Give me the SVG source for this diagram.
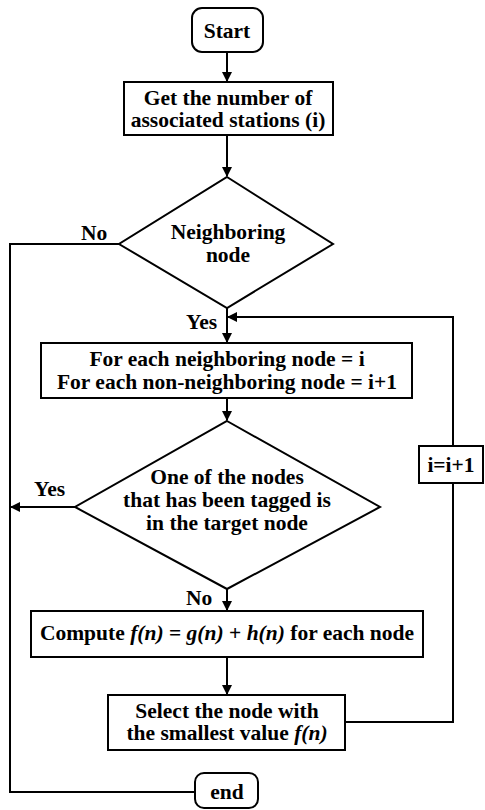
<svg xmlns="http://www.w3.org/2000/svg" width="485" height="810" viewBox="0 0 485 810">
<style>
.s{fill:#fff;stroke:#000;stroke-width:2}
text{font-family:'Liberation Serif','Times New Roman',serif;font-weight:bold;font-size:21.5px;fill:#000}
.t{text-anchor:middle;dominant-baseline:central}
.l{dominant-baseline:central}
.c{fill:none;stroke:#000;stroke-width:2}
</style>
<defs>
<marker id="a" markerWidth="10" markerHeight="10" refX="9" refY="5" orient="auto" markerUnits="userSpaceOnUse">
<path d="M0,0 L10,5 L0,10 Z" fill="#000"/>
</marker>
</defs>
<rect width="485" height="810" fill="#fff"/>
<g id="connectors">
<line class="c" x1="227" y1="52" x2="227" y2="81" marker-end="url(#a)"/>
<line class="c" x1="227" y1="135" x2="227" y2="176" marker-end="url(#a)"/>
<line class="c" x1="227" y1="308" x2="227" y2="342" marker-end="url(#a)"/>
<line class="c" x1="227" y1="398" x2="227" y2="420" marker-end="url(#a)"/>
<line class="c" x1="227" y1="589" x2="227" y2="610" marker-end="url(#a)"/>
<line class="c" x1="227" y1="657" x2="227" y2="694" marker-end="url(#a)"/>
<polyline class="c" points="119,244 10,244 10,792 195,792"/>
<line class="c" x1="75" y1="507" x2="11" y2="507" marker-end="url(#a)"/>
<polyline class="c" points="345,722 453,722 453,317 228,317" marker-end="url(#a)"/>
<text class="l" x="81" y="233">No</text>
<text class="l" x="186" y="322">Yes</text>
<text class="l" x="34" y="489">Yes</text>
<text class="l" x="186" y="598">No</text>
</g>
<g id="start">
<rect class="s" x="192" y="8" width="71" height="44" rx="10"/>
<text class="t" x="227" y="31">Start</text>
</g>
<g id="get">
<rect class="s" x="124" y="82" width="209" height="53"/>
<text class="t" x="228" y="98" font-size="21">Get the number of<tspan x="228" dy="22">associated stations (i)</tspan></text>
</g>
<g id="dec1">
<polygon class="s" points="227,177 333,244 227,308 119,244"/>
<text class="t" x="228" y="232" font-size="20.5">Neighboring<tspan x="228" dy="23">node</tspan></text>
</g>
<g id="foreach">
<rect class="s" x="41" y="343" width="371" height="55"/>
<text class="t" x="227" y="359">For each neighboring node = i<tspan x="227" dy="23">For each non-neighboring node = i+1</tspan></text>
</g>
<g id="inc">
<rect class="s" x="419" y="446" width="64" height="37"/>
<text class="t" x="451" y="465">i=i+1</text>
</g>
<g id="dec2">
<polygon class="s" points="227,421 380,507 227,589 75,507"/>
<text class="t" x="227" y="477">One of the nodes<tspan x="227" dy="23">that has been tagged is</tspan><tspan x="227" dy="23">in the target node</tspan></text>
</g>
<g id="compute">
<rect class="s" x="31" y="611" width="392" height="46"/>
<text class="t" x="227" y="633">Compute <tspan font-style="italic">f(n)</tspan> = <tspan font-style="italic">g(n)</tspan> + <tspan font-style="italic">h(n)</tspan> for each node</text>
</g>
<g id="select">
<rect class="s" x="108" y="695" width="237" height="55"/>
<text class="t" x="227" y="711">Select the node with<tspan x="227" dy="22">the smallest value <tspan font-style="italic">f(n)</tspan></tspan></text>
</g>
<g id="end">
<rect class="s" x="195" y="773" width="63" height="35" rx="9"/>
<text class="t" x="227" y="792">end</text>
</g>
</svg>
